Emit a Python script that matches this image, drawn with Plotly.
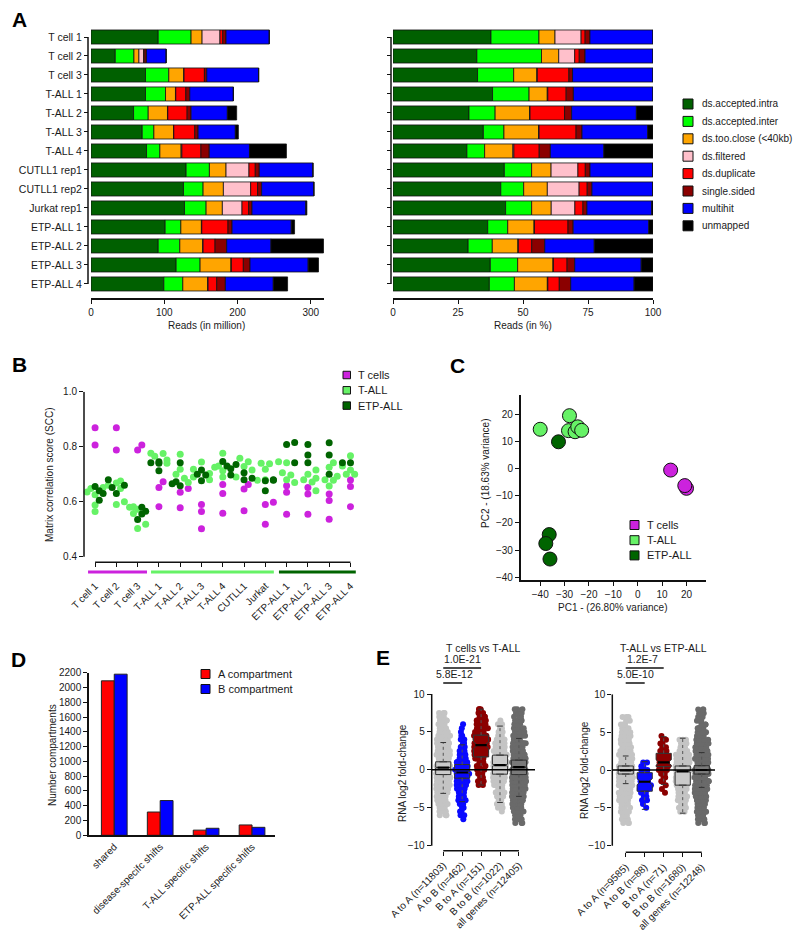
import numpy as np
import plotly.graph_objects as go

W, H = 800, 935
FONT = "Arial, 'Liberation Sans', Helvetica, sans-serif"
TXT = "#1a1a1a"


def px(x):
    return x / W


def py(y):
    return 1 - y / H


# ---------------- Panel A data (reads in million) ----------------
samples = ["T cell 1", "T cell 2", "T cell 3", "T-ALL 1", "T-ALL 2", "T-ALL 3", "T-ALL 4",
           "CUTLL1 rep1", "CUTLL1 rep2", "Jurkat rep1", "ETP-ALL 1", "ETP-ALL 2", "ETP-ALL 3", "ETP-ALL 4"]
segment_names = ["ds.accepted.intra", "ds.accepted.inter", "ds.too.close (<40kb)", "ds.filtered",
                 "ds.duplicate", "single.sided", "multihit", "unmapped"]
segment_colors = ["#006000", "#00ff00", "#ffa500", "#ffc0cb", "#ff0000", "#8b0000", "#0000ff", "#000000"]
intra = [91.7, 33.1, 74.4, 74.4, 58.1, 69.9, 75.8, 129.8, 126.2, 127.6, 101.2, 91.7, 116.2, 99.4]
inter = [44.9, 25.5, 31.8, 27.3, 20.0, 15.9, 18.2, 31.8, 26.8, 29.5, 21.4, 29.5, 32.7, 25.9]
too_close = [15.0, 6.8, 20.4, 13.6, 26.3, 26.8, 29.0, 22.7, 27.7, 22.2, 28.1, 31.3, 42.2, 34.0]
filtered = [24.4, 6.3, 0.4, 0.4, 0.4, 0.4, 1.0, 31.3, 37.2, 26.8, 0.5, 0.5, 0.5, 0.5]
duplicate = [3.8, 1.8, 27.8, 13.7, 26.4, 28.6, 26.0, 8.6, 9.5, 9.1, 35.8, 16.3, 16.3, 11.8]
single_sided = [4.5, 2.3, 3.2, 5.4, 5.4, 4.6, 11.4, 5.5, 5.5, 4.5, 5.5, 15.9, 9.1, 11.8]
multihit = [59.0, 26.8, 70.8, 59.5, 49.5, 50.8, 54.9, 73.1, 71.2, 73.5, 80.8, 60.4, 79.4, 65.4]
unmapped = [0.0, 0.0, 0.0, 0.0, 12.7, 4.1, 50.4, 0.3, 0.3, 1.4, 4.5, 71.7, 14.1, 19.5]
segments = [intra, inter, too_close, filtered, duplicate, single_sided, multihit, unmapped]

# ---------------- Panel B data (SCC) ----------------
b_columns = ["T cell 1", "T cell 2", "T cell 3", "T-ALL 1", "T-ALL 2", "T-ALL 3", "T-ALL 4",
             "CUTLL1", "Jurkat", "ETP-ALL 1", "ETP-ALL 2", "ETP-ALL 3", "ETP-ALL 4"]
b_tcells = [[0.869, 0.806], [0.869, 0.788], [0.806, 0.788], [0.673, 0.652, 0.582],
            [0.648, 0.634, 0.578], [0.59, 0.564, 0.502], [0.663, 0.63, 0.558],
            [0.663, 0.646, 0.567], [0.598, 0.59, 0.518], [0.658, 0.634, 0.554],
            [0.652, 0.628, 0.554], [0.628, 0.604, 0.536], [0.679, 0.655, 0.582]]
b_tall = [[0.652, 0.648, 0.635, 0.625, 0.588, 0.564], [0.675, 0.668, 0.66, 0.648, 0.60, 0.59],
          [0.582, 0.58, 0.573, 0.557, 0.518, 0.503], [0.776, 0.775, 0.765, 0.752, 0.74],
          [0.773, 0.718, 0.70, 0.685, 0.67], [0.744, 0.718, 0.703, 0.69, 0.68],
          [0.776, 0.73, 0.725, 0.713, 0.69], [0.758, 0.745, 0.728, 0.715, 0.69],
          [0.74, 0.738, 0.718, 0.68, 0.678], [0.745, 0.742, 0.705, 0.697, 0.68, 0.67],
          [0.715, 0.70, 0.685, 0.68, 0.672, 0.64], [0.742, 0.725, 0.693, 0.68, 0.678, 0.657],
          [0.767, 0.742, 0.73, 0.715, 0.70, 0.70]]
b_etp = [[0.655, 0.64, 0.63, 0.605], [0.68, 0.66, 0.652, 0.63], [0.58, 0.565, 0.555, 0.535],
         [0.745, 0.742, 0.74, 0.713], [0.742, 0.673, 0.665, 0.658], [0.715, 0.70, 0.697, 0.676],
         [0.746, 0.73, 0.72, 0.697], [0.735, 0.705, 0.685, 0.68], [0.68, 0.678, 0.676, 0.64],
         [0.815, 0.808, 0.742], [0.808, 0.77, 0.742], [0.814, 0.77, 0.70], [0.742, 0.742, 0.715]]
group_names = ["T cells", "T-ALL", "ETP-ALL"]
group_colors = ["#cc22dd", "#66f266", "#006400"]

# ---------------- Panel C data (PCA) ----------------
pc_tcells_x = [13.5, 20.0, 19.3]
pc_tcells_y = [-0.6, -7.3, -6.3]
pc_tall_x = [-40.0, -28.0, -28.4, -25.7, -24.6, -23.0]
pc_tall_y = [14.4, 19.4, 13.9, 13.5, 15.3, 14.0]
pc_etp_x = [-32.5, -36.3, -37.7, -36.0]
pc_etp_y = [9.8, -24.3, -27.6, -33.3]

# ---------------- Panel D data ----------------
d_categories = ["shared", "disease-specifc shifts", "T-ALL specific shifts", "ETP-ALL specific shifts"]
d_a_compartment = [2090, 315, 70, 140]
d_b_compartment = [2180, 470, 95, 108]

# ---------------- Panel E data ----------------
e_left_labels = ["A to A (n=11803)", "A to B (n=462)", "B to A (n=151)", "B to B (n=1022)", "all genes (n=12405)"]
e_right_labels = ["A to A (n=9585)", "A to B (n=88)", "B to A (n=71)", "B to B (n=1680)", "all genes (n=12248)"]
# box statistics: q1, median, q3, lower whisker, upper whisker, notch span
e_left_q1 = [-0.62, -1.1, 1.7, -0.57, -0.62]
e_left_med = [0.3, -0.35, 3.26, 0.62, 0.35]
e_left_q3 = [1.06, 0.7, 4.58, 1.94, 1.28]
e_left_lo = [-3.1, -4.2, -2.0, -4.3, -3.5]
e_left_hi = [3.6, 3.3, 8.0, 5.77, 4.14]
e_left_notch = [0.05, 0.15, 0.45, 0.12, 0.04]
e_right_q1 = [-0.53, -2.8, 0.45, -2.0, -0.53]
e_right_med = [-0.05, -1.55, 1.0, -0.18, 0.0]
e_right_q3 = [0.53, -0.35, 2.2, 0.53, 0.57]
e_right_lo = [-1.8, -5.2, -1.9, -5.7, -2.3]
e_right_hi = [1.85, 1.1, 4.4, 4.2, 2.3]
e_right_notch = [0.04, 0.4, 0.35, 0.1, 0.03]
# visible point clouds (levels and approximate counts read from the swarm)
el_aa_lv = [-6, -5.5, -5, -4.5, -4, -3.5, -3, -2.5, -2, -1.5, -1, -0.5, 0, 0.5, 1, 1.5, 2, 2.5, 3, 3.5, 4, 4.5, 5, 5.5, 6, 6.5, 7, 7.5]
el_aa_ct = [3, 4, 5, 5, 6, 7, 8, 8, 9, 10, 11, 12, 12, 12, 12, 11, 10, 9, 8, 8, 7, 6, 5, 5, 4, 4, 4, 3]
el_ab_lv = [-6.5, -6, -5.5, -5, -4.5, -4, -3.5, -3, -2.5, -2, -1.5, -1, -0.5, 0, 0.5, 1, 1.5, 2, 2.5, 3, 3.5, 4, 4.5, 5, 5.5, 6]
el_ab_ct = [1, 2, 2, 3, 4, 5, 5, 6, 7, 9, 10, 12, 12, 12, 10, 9, 7, 6, 5, 4, 3, 2, 2, 1, 1, 1]
el_ba_lv = [-2, -1.5, -1, -0.5, 0, 0.5, 1, 1.5, 2, 2.5, 3, 3.5, 4, 4.5, 5, 5.5, 6, 6.5, 7, 7.5, 8]
el_ba_ct = [2, 2, 3, 3, 4, 4, 5, 6, 8, 9, 10, 10, 10, 9, 8, 6, 5, 4, 4, 4, 3]
el_bb_lv = [-5.5, -5, -4.5, -4, -3.5, -3, -2.5, -2, -1.5, -1, -0.5, 0, 0.5, 1, 1.5, 2, 2.5, 3, 3.5, 4, 4.5, 5, 5.5, 6, 6.5]
el_bb_ct = [1, 2, 3, 3, 4, 5, 5, 6, 7, 8, 9, 9, 9, 9, 8, 7, 6, 5, 5, 4, 3, 3, 2, 2, 1]
el_all_lv = [-7, -6.5, -6, -5.5, -5, -4.5, -4, -3.5, -3, -2.5, -2, -1.5, -1, -0.5, 0, 0.5, 1, 1.5, 2, 2.5, 3, 3.5, 4, 4.5, 5, 5.5, 6, 6.5, 7, 7.5, 8]
el_all_ct = [3, 4, 5, 5, 6, 7, 7, 8, 8, 9, 10, 11, 12, 12, 12, 12, 12, 11, 10, 9, 8, 8, 7, 7, 6, 5, 5, 4, 4, 4, 3]
er_aa_lv = [-7, -6.5, -6, -5.5, -5, -4.5, -4, -3.5, -3, -2.5, -2, -1.5, -1, -0.5, 0, 0.5, 1, 1.5, 2, 2.5, 3, 3.5, 4, 4.5, 5, 5.5, 6, 6.5, 7]
er_aa_ct = [3, 3, 4, 4, 5, 5, 6, 7, 7, 8, 9, 10, 12, 12, 12, 12, 12, 10, 9, 8, 7, 7, 6, 5, 5, 4, 4, 3, 3]
er_ab_lv = [-5, -4.5, -4, -3.5, -3, -2.5, -2, -1.5, -1, -0.5, 0, 0.5, 1]
er_ab_ct = [1, 1, 2, 2, 4, 5, 6, 7, 6, 5, 3, 2, 2]
er_ba_lv = [-3, -2.5, -2, -1.5, -1, -0.5, 0, 0.5, 1, 1.5, 2, 2.5, 3, 3.5, 4, 4.5]
er_ba_ct = [1, 1, 1, 2, 2, 3, 4, 6, 7, 6, 4, 3, 3, 2, 2, 1]
er_bb_lv = [-5.5, -5, -4.5, -4, -3.5, -3, -2.5, -2, -1.5, -1, -0.5, 0, 0.5, 1, 1.5, 2, 2.5, 3, 3.5, 4]
er_bb_ct = [2, 3, 4, 5, 5, 6, 6, 7, 8, 9, 10, 10, 10, 9, 8, 7, 5, 4, 4, 3]
er_all_lv = [-7, -6.5, -6, -5.5, -5, -4.5, -4, -3.5, -3, -2.5, -2, -1.5, -1, -0.5, 0, 0.5, 1, 1.5, 2, 2.5, 3, 3.5, 4, 4.5, 5, 5.5, 6, 6.5, 7, 7.5, 8]
er_all_ct = [3, 4, 4, 5, 5, 6, 7, 7, 8, 9, 10, 11, 12, 12, 12, 12, 12, 11, 10, 9, 8, 7, 7, 6, 5, 5, 4, 4, 3, 3, 3]

e_point_colors = ["#c4c4c4", "#0a0aff", "#8b0000", "#c4c4c4", "#6a6a6a"]
e_box_colors = ["#cacaca", "#0a0aff", "#8b0000", "#cacaca", "#7a7a7a"]

fig = go.Figure()
shapes = []
annotations = []

# ---------------- Panel A traces ----------------
totals = np.sum(np.array(segments, dtype=float), axis=0)
base_abs = np.zeros(len(samples))
base_pct = np.zeros(len(samples))
for name, col, vals in zip(segment_names, segment_colors, segments):
    v = np.array(vals, dtype=float)
    pct = v / totals * 100.0
    mk = dict(color=col, line=dict(color="#111111", width=0.8))
    fig.add_trace(go.Bar(y=samples, x=v, base=base_abs.copy(), orientation="h", width=0.74,
                         marker=mk, name=name, xaxis="x", yaxis="y", showlegend=False))
    fig.add_trace(go.Bar(y=samples, x=pct, base=base_pct.copy(), orientation="h", width=0.74,
                         marker=mk, name=name, xaxis="x2", yaxis="y2", showlegend=False))
    base_abs += v
    base_pct += pct


# ---------------- Panel B traces ----------------
def swarm_offsets(values, ypx, xpx, d=7.0):
    order = np.argsort(values)
    placed = []
    offs = np.zeros(len(values))
    steps = [0, 0.6, -0.6, 1.15, -1.15]
    for i in order:
        yv = values[i] * ypx
        best, best_cost = 0.0, None
        for s in steps:
            xo = s * d
            cost = sum(max(0.0, (0.85 * d) ** 2 - ((xo - a) ** 2 + (yv - b) ** 2)) for a, b in placed)
            if cost == 0:
                best = xo
                best_cost = 0
                break
            if best_cost is None or cost < best_cost:
                best, best_cost = xo, cost
        placed.append((best, yv))
        offs[i] = best / xpx
    return offs


b_sets = [b_tcells, b_tall, b_etp]
gx = {0: [], 1: [], 2: []}
gy = {0: [], 1: [], 2: []}
for ci in range(len(b_columns)):
    vals, gids = [], []
    for g in range(3):
        for v in b_sets[g][ci]:
            vals.append(v)
            gids.append(g)
    offs = swarm_offsets(np.array(vals), 275.0, 21.3)
    for v, g, o in zip(vals, gids, offs):
        gx[g].append(ci + o)
        gy[g].append(v)
for g in range(3):
    fig.add_trace(go.Scatter(x=gx[g], y=gy[g], mode="markers", name=group_names[g],
                             marker=dict(color=group_colors[g], size=7, line=dict(width=0)),
                             xaxis="x3", yaxis="y3", showlegend=False, cliponaxis=False))

# ---------------- Panel C traces ----------------
for xs, ys, col, nm in [(pc_tcells_x, pc_tcells_y, group_colors[0], "T cells"),
                        (pc_tall_x, pc_tall_y, group_colors[1], "T-ALL"),
                        (pc_etp_x, pc_etp_y, group_colors[2], "ETP-ALL")]:
    fig.add_trace(go.Scatter(x=xs, y=ys, mode="markers", name=nm,
                             marker=dict(color=col, size=14, line=dict(color="#111111", width=1)),
                             xaxis="x4", yaxis="y4", showlegend=False))

# ---------------- Panel D traces ----------------
fig.add_trace(go.Bar(x=d_categories, y=d_a_compartment, width=0.28, offset=-0.28, name="A compartment",
                     marker=dict(color="#ff0000", line=dict(color="#222222", width=1)),
                     xaxis="x5", yaxis="y5", showlegend=False))
fig.add_trace(go.Bar(x=d_categories, y=d_b_compartment, width=0.28, offset=0.0, name="B compartment",
                     marker=dict(color="#0000ff", line=dict(color="#222222", width=1)),
                     xaxis="x5", yaxis="y5", showlegend=False))


# ---------------- Panel E traces ----------------
def expand(levels, counts):
    return [lv for lv, c in zip(levels, counts) for _ in range(c)]


def add_e_panel(xa, ya, clouds, q1, med, q3, lo, hi, notch):
    for i, (lv, ct) in enumerate(clouds):
        pts = expand(lv, ct)
        fig.add_trace(go.Box(x=[i] * len(pts), y=pts, boxpoints="all", jitter=1, pointpos=0, width=0.74,
                             fillcolor="rgba(0,0,0,0)", line=dict(width=0, color="rgba(0,0,0,0)"),
                             marker=dict(color=e_point_colors[i], size=6), hoverinfo="skip",
                             xaxis=xa, yaxis=ya, showlegend=False))
    for i in range(len(clouds)):
        fig.add_trace(go.Box(x=[i], q1=[q1[i]], median=[med[i]], q3=[q3[i]], lowerfence=[q1[i]],
                             upperfence=[q3[i]], notched=True, notchspan=[notch[i]], notchwidth=0.25,
                             width=0.8, fillcolor=e_box_colors[i], line=dict(color="#333333", width=1),
                             boxpoints=False, xaxis=xa, yaxis=ya, showlegend=False))
    wx, wy, cx, cy, mx, my = [], [], [], [], [], []
    for i in range(len(clouds)):
        wx += [i, i, None, i, i, None]
        wy += [q3[i], hi[i], None, q1[i], lo[i], None]
        cx += [i - 0.15, i + 0.15, None, i - 0.15, i + 0.15, None]
        cy += [hi[i], hi[i], None, lo[i], lo[i], None]
        mx += [i - 0.3, i + 0.3, None]
        my += [med[i], med[i], None]
    fig.add_trace(go.Scatter(x=wx, y=wy, mode="lines", line=dict(color="#555555", width=1, dash="dot"),
                             xaxis=xa, yaxis=ya, showlegend=False, hoverinfo="skip"))
    fig.add_trace(go.Scatter(x=cx, y=cy, mode="lines", line=dict(color="#333333", width=1),
                             xaxis=xa, yaxis=ya, showlegend=False, hoverinfo="skip"))
    fig.add_trace(go.Scatter(x=mx, y=my, mode="lines", line=dict(color="#000000", width=2.2),
                             xaxis=xa, yaxis=ya, showlegend=False, hoverinfo="skip"))


add_e_panel("x6", "y6",
            [(el_aa_lv, el_aa_ct), (el_ab_lv, el_ab_ct), (el_ba_lv, el_ba_ct), (el_bb_lv, el_bb_ct), (el_all_lv, el_all_ct)],
            e_left_q1, e_left_med, e_left_q3, e_left_lo, e_left_hi, e_left_notch)
add_e_panel("x7", "y7",
            [(er_aa_lv, er_aa_ct), (er_ab_lv, er_ab_ct), (er_ba_lv, er_ba_ct), (er_bb_lv, er_bb_ct), (er_all_lv, er_all_ct)],
            e_right_q1, e_right_med, e_right_q3, e_right_lo, e_right_hi, e_right_notch)

# ---------------- Axes ----------------
tf = dict(size=10, color=TXT, family=FONT)
common = dict(showgrid=False, zeroline=False, linecolor="#111111", tickcolor="#111111",
              ticks="outside", ticklen=4, tickwidth=1.2, tickfont=tf, linewidth=1.5, automargin=False)

layout = dict(
    template="none",
    width=W, height=H, margin=dict(l=0, r=0, t=0, b=0, pad=0, autoexpand=False),
    paper_bgcolor="white", plot_bgcolor="white", barmode="overlay", boxmode="overlay",
    showlegend=False, font=dict(family=FONT, color=TXT, size=10),
    xaxis=dict(common, domain=[px(91), px(324)], range=[0, 318], tickvals=[0, 100, 200, 300],
               showline=True, anchor="y"),
    yaxis=dict(common, domain=[py(298), py(27.5)], type="category", categoryorder="array",
               categoryarray=samples, range=[13.74, -0.5], anchor="free", position=px(88),
               showline=False, tickfont=dict(size=10.5, color=TXT, family=FONT)),
    xaxis2=dict(common, domain=[px(393), px(653)], range=[0, 100], tickvals=[0, 25, 50, 75, 100],
                showline=True, anchor="y2"),
    yaxis2=dict(common, domain=[py(298), py(27.5)], type="category", categoryorder="array",
                categoryarray=samples, range=[13.74, -0.5], anchor="free", position=px(391),
                showline=False, showticklabels=False),
    xaxis3=dict(common, domain=[px(84), px(356)], range=[-0.52, 12.26], tickvals=list(range(13)),
                ticktext=b_columns, tickangle=-45, showline=False, anchor="y3", ticklabelstandoff=9),
    yaxis3=dict(common, domain=[py(562.2), py(391.7)], range=[0.38, 1.0], tickvals=[0.4, 0.6, 0.8, 1.0],
                ticktext=["0.4", "0.6", "0.8", "1.0"], showline=False, anchor="x3"),
    xaxis4=dict(common, domain=[px(520.7), px(706)], range=[-48, 28], tickvals=[-40, -30, -20, -10, 0, 10, 20],
                showline=True, anchor="y4"),
    yaxis4=dict(common, domain=[py(580), py(395)], range=[-41, 27], tickvals=[-40, -30, -20, -10, 0, 10, 20],
                showline=True, anchor="x4"),
    xaxis5=dict(common, domain=[px(89), px(275)], type="category", range=[-0.55, 3.5], tickangle=-45,
                showline=True, anchor="y5", ticks=""),
    yaxis5=dict(common, domain=[py(835.3), py(672.7)], range=[0, 2200], tickvals=list(range(0, 2201, 200)),
                showline=True, anchor="x5"),
    xaxis6=dict(common, domain=[px(431.7), px(535)], range=[-0.61, 4.85], tickvals=list(range(5)),
                ticktext=e_left_labels, tickangle=-45, showline=False, anchor="y6"),
    yaxis6=dict(common, domain=[py(850.7), py(694)], range=[-10.66, 10], tickvals=[-10, -5, 0, 5, 10],
                showline=False, anchor="x6"),
    xaxis7=dict(common, domain=[px(612.3), px(715)], range=[-0.705, 4.7], tickvals=list(range(5)),
                ticktext=e_right_labels, tickangle=-45, showline=False, anchor="y7"),
    yaxis7=dict(common, domain=[py(852.3), py(694.3)], range=[-10.87, 10], tickvals=[-10, -5, 0, 5, 10],
                showline=False, anchor="x7"),
)

LINE = dict(color="#111111", width=1.5)
# Panel A brackets
shapes.append(dict(type="line", xref="paper", yref="y", x0=px(88), x1=px(88), y0=0, y1=13, line=LINE))
shapes.append(dict(type="line", xref="paper", yref="y2", x0=px(391), x1=px(391), y0=0, y1=13, line=LINE))
# Panel B axis lines and group bars
shapes.append(dict(type="line", xref="x3 domain", yref="y3", x0=0, x1=0, y0=0.4, y1=1.0, line=LINE))
shapes.append(dict(type="line", xref="x3", yref="y3 domain", x0=0, x1=12, y0=0, y1=0, line=LINE))
bar_y = -(572 - 562.2) / (562.2 - 391.7)
for x0, x1, col in [(-0.33, 2.44, group_colors[0]), (2.63, 8.4, group_colors[1]), (8.64, 12.25, group_colors[2])]:
    shapes.append(dict(type="line", xref="x3", yref="y3 domain", x0=x0, x1=x1, y0=bar_y, y1=bar_y,
                       line=dict(color=col, width=3)))
# Panel E axis lines, zero lines
for xa, ya in [("x6", "y6"), ("x7", "y7")]:
    shapes.append(dict(type="line", xref=xa + " domain", yref=ya, x0=0, x1=0, y0=-10, y1=10, line=LINE))
    shapes.append(dict(type="line", xref=xa, yref=ya + " domain", x0=0, x1=4, y0=0, y1=0, line=LINE))
    shapes.append(dict(type="line", xref=xa + " domain", yref=ya, x0=0, x1=1, y0=0, y1=0,
                       line=dict(color="#000000", width=1.5)))
# significance lines
for xa, xe, yy in [("x6", 2, 668), ("x6", 1, 683), ("x7", 2, 668), ("x7", 1, 683)]:
    shapes.append(dict(type="line", xref=xa, yref="paper", x0=0, x1=xe, y0=py(yy), y1=py(yy),
                       line=dict(color="#111111", width=1.3)))


def ann(x, y, text, size=10, xanchor="center", yanchor="middle", bold=False, angle=0):
    annotations.append(dict(x=px(x), y=py(y), xref="paper", yref="paper", text=("<b>%s</b>" % text) if bold else text,
                            showarrow=False, xanchor=xanchor, yanchor=yanchor, textangle=angle,
                            font=dict(size=size, color=TXT if not bold else "#000000", family=FONT)))


# panel letters
for lt, x, y in [("A", 19, 20), ("B", 19, 364), ("C", 457, 365), ("D", 18, 659), ("E", 383, 657)]:
    ann(x, y, lt, size=21, bold=True)

# axis titles
ann(207, 325, "Reads (in million)")
ann(523, 325, "Reads (in %)")
ann(49, 475, "Matrix correlation score (SCC)", angle=-90)
ann(485, 473, "PC2 - (18.63% variance)", angle=-90)
ann(613, 607, "PC1 - (26.80% variance)")
ann(52, 755, "Number compartments", angle=-90)
ann(402, 773, "RNA log2 fold-change", angle=-90)
ann(584, 770, "RNA log2 fold-change", angle=-90)
ann(483, 648, "T cells vs T-ALL", size=10.5)
ann(663, 648, "T-ALL vs ETP-ALL", size=10.5)
# p-values
annotations.append(dict(x=1.04, y=py(667), xref="x6", yref="paper", text="1.0E-21", showarrow=False,
                        xanchor="center", yanchor="bottom", font=dict(size=10.5, color=TXT, family=FONT)))
annotations.append(dict(x=0.62, y=py(682), xref="x6", yref="paper", text="5.8E-12", showarrow=False,
                        xanchor="center", yanchor="bottom", font=dict(size=10.5, color=TXT, family=FONT)))
annotations.append(dict(x=0.91, y=py(667), xref="x7", yref="paper", text="1.2E-7", showarrow=False,
                        xanchor="center", yanchor="bottom", font=dict(size=10.5, color=TXT, family=FONT)))
annotations.append(dict(x=0.49, y=py(682), xref="x7", yref="paper", text="5.0E-10", showarrow=False,
                        xanchor="center", yanchor="bottom", font=dict(size=10.5, color=TXT, family=FONT)))


# manual legends
def add_legend(labels, colors, x_sq, y0, dy, size, text_x, font_size):
    for k, (label, color) in enumerate(zip(labels, colors)):
        yc = y0 + k * dy
        shapes.append(dict(type="rect", xref="paper", yref="paper", x0=px(x_sq), x1=px(x_sq + size),
                           y0=py(yc + size / 2), y1=py(yc - size / 2), fillcolor=color,
                           line=dict(color="#111111", width=1)))
        ann(text_x, yc, label, size=font_size, xanchor="left")


add_legend(segment_names, segment_colors, 683, 104, 17.4, 10, 700, 10)
add_legend(group_names, group_colors, 343, 375, 15.3, 7.5, 356, 11)
add_legend(group_names, group_colors, 630, 525, 15.2, 9, 645, 11)
add_legend(["A compartment", "B compartment"], ["#ff0000", "#0000ff"], 201, 674, 15, 9, 216, 11)

layout["shapes"] = shapes
layout["annotations"] = annotations
fig.update_layout(**layout)
fig.write_html("out.html", config={"displayModeBar": False},
               post_script="document.body.style.margin='0px';document.body.style.padding='0px';"
                           "document.documentElement.style.overflow='hidden';")
